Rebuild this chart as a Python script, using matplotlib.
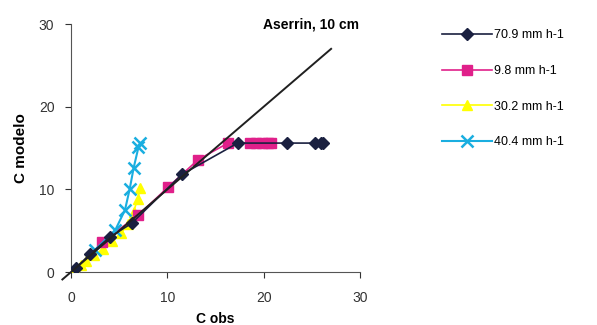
import matplotlib
matplotlib.use("Agg")
import matplotlib.pyplot as plt

plt.rcParams['font.family'] = ['Liberation Sans', 'DejaVu Sans']

obs_709 = [0.5, 2, 4, 6.3, 11.5, 17.3, 22.4, 25.3, 25.9, 26.2]
mod_709 = [0.5, 2.2, 4.2, 5.9, 11.8, 15.6, 15.6, 15.6, 15.6, 15.6]

obs_98 = [3.2, 7.0, 10.1, 13.2, 16.3, 18.6, 19.2, 19.8, 20.4, 20.8]
mod_98 = [3.6, 6.9, 10.3, 13.6, 15.6, 15.6, 15.6, 15.6, 15.6, 15.6]

obs_302 = [0.4, 1.0, 1.6, 2.4, 3.3, 4.3, 5.2, 5.9, 6.5, 6.9, 7.2]
mod_302 = [0.3, 0.8, 1.3, 2.0, 2.8, 3.7, 4.7, 5.8, 7.3, 8.8, 10.2]

obs_404 = [2.5, 4.6, 5.6, 6.1, 6.5, 7.0, 7.2]
mod_404 = [2.7, 5.1, 7.5, 10.1, 12.6, 15.1, 15.6]

labels = ['70.9 mm h-1', '9.8 mm h-1', '30.2 mm h-1', '40.4 mm h-1']

# 1:1 line ends
ref_x = [-0.9, 27]
ref_y = [-0.9, 27]

fig = plt.figure(figsize=(5.97, 3.25), dpi=100)
ax = fig.add_axes([0.119, 0.163, 0.484, 0.763])

ax.plot(obs_302, mod_302, color='#ffff00', marker='^', markersize=7, lw=1.2, label=labels[2], zorder=3)
ax.plot(obs_404, mod_404, color='#1aaee0', marker='x', markersize=8, mew=1.8, lw=1.5, label=labels[3], zorder=4)
ax.plot(obs_98, mod_98, color='#e0208a', marker='s', markersize=7, lw=1.2, label=labels[1], zorder=3)
ax.plot(obs_709, mod_709, color='#1a2040', marker='D', markersize=6, lw=1.2, label=labels[0], zorder=5)
ax.plot(ref_x, ref_y, color='#202020', lw=1.4, clip_on=False, zorder=6)

ax.set_xlim(0, 30)
ax.set_ylim(0, 30)
ax.set_xticks([0, 10, 20, 30])
ax.set_yticks([0, 10, 20, 30])
for s in ['top', 'right']:
    ax.spines[s].set_visible(False)
for s in ['left', 'bottom']:
    ax.spines[s].set_color('#555555')
ax.tick_params(labelsize=10, colors='#333333', length=4)
ax.tick_params(axis='x', pad=10)
ax.tick_params(axis='y', pad=8)
ax.set_xlabel('C obs', fontsize=10, fontweight='bold', labelpad=5)
ax.set_ylabel('C modelo', fontsize=11, fontweight='bold', labelpad=8)
ax.text(0.83, 1.0, 'Aserrin, 10 cm', transform=ax.transAxes, ha='center', va='center',
        fontsize=10, fontweight='bold')

h, l = ax.get_legend_handles_labels()
order = [3, 2, 0, 1]
fig.legend([h[i] for i in order], [l[i] for i in order], loc='upper left',
           bbox_to_anchor=(0.722, 0.945), frameon=False, fontsize=9,
           handlelength=4.0, handletextpad=0.1, labelspacing=1.9)

fig.savefig('out.png', dpi=100)
